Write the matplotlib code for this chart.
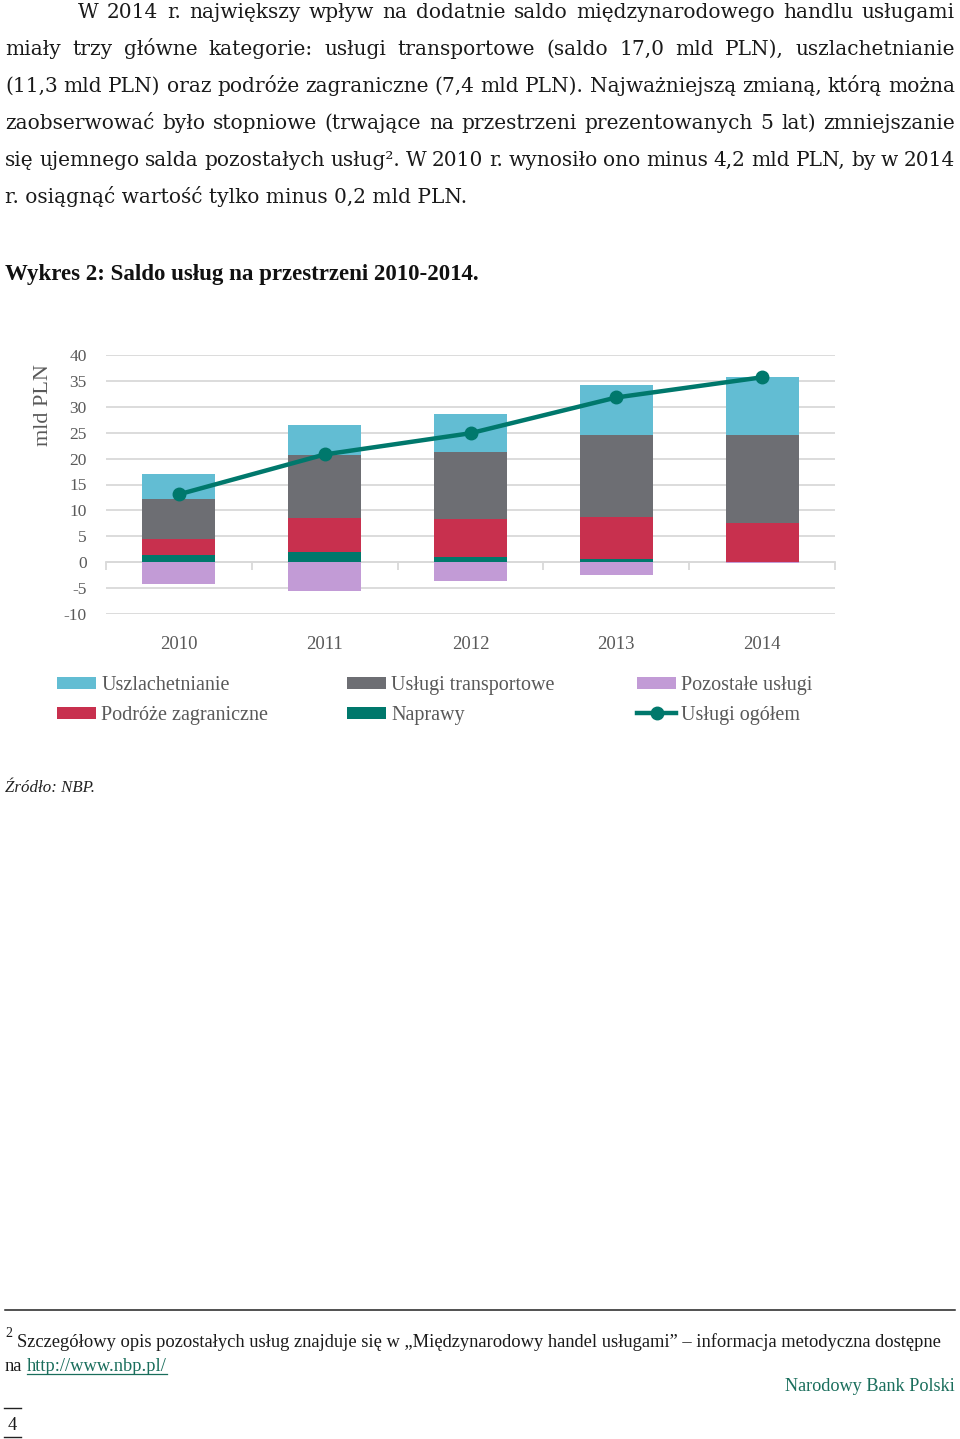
import matplotlib
matplotlib.use('Agg')
import matplotlib.pyplot as plt
from matplotlib.lines import Line2D
import numpy as np

plt.rcParams['font.family'] = ['Liberation Serif', 'DejaVu Serif']
plt.rcParams['axes.unicode_minus'] = False

# ---------------- data ----------------
years = ['2010', '2011', '2012', '2013', '2014']
naprawy = [1.4, 1.9, 1.1, 0.7, 0.1]
podroze = [3.0, 6.6, 7.2, 8.1, 7.4]
transport = [7.8, 12.1, 13.0, 15.8, 17.0]
uszlachetnianie = [4.9, 5.9, 7.4, 9.6, 11.3]
pozostale = [-4.2, -5.6, -3.7, -2.4, -0.2]
ogolem = [13.1, 20.8, 24.9, 31.8, 35.7]
yticks = [-10, -5, 0, 5, 10, 15, 20, 25, 30, 35, 40]

C_CYAN = '#62BDD3'
C_GRAY = '#6D6E73'
C_RED = '#C8304E'
C_TEAL = '#00786C'
C_PURPLE = '#C29BD6'
C_GRID = '#D9D9D9'
C_TXT = '#595959'
C_BODY = '#1a1a1a'
C_NBP = '#1A6E5C'

W, H = 960, 1439
fig = plt.figure(figsize=(W / 100, H / 100), dpi=100)


def fx(x):
    return x / W


def fy(y):
    return 1 - y / H


renderer = fig.canvas.get_renderer()


def fit_size(text, target_w, base=14, **kw):
    t = fig.text(0, 0, text, fontsize=base, **kw)
    w = t.get_window_extent(renderer).width
    t.remove()
    return base * target_w / w


def justify(line, x0, x1, y, **kw):
    words = line.split()
    texts = [fig.text(0, fy(y), w, va='baseline', ha='left', **kw) for w in words]
    widths = [t.get_window_extent(renderer).width for t in texts]
    gap = (x1 - x0 - sum(widths)) / (len(words) - 1)
    x = x0
    for t, w in zip(texts, widths):
        t.set_x(fx(x))
        x += w + gap


PAGE = ['DejaVu Serif']

# ---------------- body text ----------------
last_line = "r. osiągnąć wartość tylko minus 0,2 mld PLN."
body_size = fit_size(last_line, 463, family=PAGE)
body_kw = dict(fontsize=body_size, color=C_BODY, family=PAGE)
body = [
    ("W 2014 r. największy wpływ na dodatnie saldo międzynarodowego handlu usługami", 78, 18),
    ("miały trzy główne kategorie: usługi transportowe (saldo 17,0 mld PLN), uszlachetnianie", 5, 55),
    ("(11,3 mld PLN) oraz podróże zagraniczne (7,4 mld PLN). Najważniejszą zmianą, którą można", 5, 92),
    ("zaobserwować było stopniowe (trwające na przestrzeni prezentowanych 5 lat) zmniejszanie", 5, 129),
    ("się ujemnego salda pozostałych usług². W 2010 r. wynosiło ono minus 4,2 mld PLN, by w 2014", 5, 166),
]
for line, x0, y in body:
    justify(line, x0, 955, y, **body_kw)
fig.text(fx(5), fy(203), last_line, va='baseline', **body_kw)

title = "Wykres 2: Saldo usług na przestrzeni 2010-2014."
title_size = fit_size(title, 477, fontweight='bold')
fig.text(fx(5), fy(280), title, va='baseline', fontsize=title_size, fontweight='bold',
         color='#111111')

# ---------------- chart ----------------
ax = fig.add_axes([fx(106), fy(614), (835 - 106) / W, (614 - 355) / H])
x = np.arange(len(years))
bw = 0.5
b1 = np.array(naprawy)
b2 = b1 + np.array(podroze)
b3 = b2 + np.array(transport)
h_napr = ax.bar(x, naprawy, bw, color=C_TEAL, zorder=2)
h_podr = ax.bar(x, podroze, bw, bottom=b1, color=C_RED, zorder=2)
h_tran = ax.bar(x, transport, bw, bottom=b2, color=C_GRAY, zorder=2)
h_uszl = ax.bar(x, uszlachetnianie, bw, bottom=b3, color=C_CYAN, zorder=2)
h_poz = ax.bar(x, pozostale, bw, color=C_PURPLE, zorder=2)
h_line, = ax.plot(x, ogolem, color=C_TEAL, lw=3.2, marker='o', ms=9, zorder=4)

ax.set_xlim(-0.5, len(years) - 0.5)
ax.set_ylim(-10, 40)
ax.set_yticks(yticks)
ax.yaxis.grid(True, color=C_GRID, lw=1.3)
ax.set_axisbelow(True)
for s in ax.spines.values():
    s.set_visible(False)
ax.tick_params(axis='y', length=0, pad=14, labelsize=12.5, labelcolor=C_TXT)
ax.set_xticks(x, years)
ax.tick_params(axis='x', length=0, pad=16, labelsize=13.5, labelcolor=C_TXT)
ax.set_ylabel('mld PLN', fontsize=16, color=C_TXT, va='center')
ax.yaxis.set_label_coords((44 - 106) / 729, (614 - 405) / 259)

# tick marks on the zero line
sec = ax.secondary_xaxis(0.2)
sec.set_xticks(np.arange(len(years) + 1) - 0.5)
sec.set_xticklabels([])
sec.tick_params(length=6, width=1.3, color=C_GRID, direction='out')
sec.spines['bottom'].set_color(C_GRID)
sec.spines['bottom'].set_linewidth(1.3)

# ---------------- legend ----------------
leg_kw = dict(frameon=False, fontsize=14.5, labelcolor=C_TXT, handlelength=1.95,
              handleheight=0.6, handletextpad=0.25, labelspacing=0.55,
              borderpad=0, borderaxespad=0, loc='upper left')
cols = [
    ([h_uszl, h_podr], ['Uszlachetnianie', 'Podróże zagraniczne'], 57),
    ([h_tran, h_napr], ['Usługi transportowe', 'Naprawy'], 347),
    ([h_poz, h_line], ['Pozostałe usługi', 'Usługi ogółem'], 637),
]
for hs, labs, xx in cols:
    fig.legend(hs, labs, bbox_to_anchor=(fx(xx), fy(676)), **leg_kw)

src = "Źródło: NBP."
src_size = fit_size(src, 90, style='italic')
fig.text(fx(5), fy(792), src, va='baseline', fontsize=src_size, style='italic', color='#222222')

# ---------------- footnote ----------------
fig.add_artist(Line2D([fx(5), fx(955)], [fy(1310), fy(1310)], transform=fig.transFigure,
                      color='#222222', lw=1.1))
foot = "Szczegółowy opis pozostałych usług znajduje się w „Międzynarodowy handel usługami” – informacja metodyczna dostępne"
foot_size = fit_size(foot, 929)
fig.text(fx(5), fy(1337), "2", fontsize=foot_size * 0.75, va='baseline', color=C_BODY)
fig.text(fx(17), fy(1347), foot, va='baseline', fontsize=foot_size, color=C_BODY)
fig.text(fx(5), fy(1371), "na", va='baseline', fontsize=foot_size, color=C_BODY)
link = fig.text(fx(27), fy(1371), "http://www.nbp.pl/", va='baseline', fontsize=foot_size, color=C_NBP)
lb = link.get_window_extent(renderer)
fig.add_artist(Line2D([lb.x0 / W, lb.x1 / W], [fy(1374), fy(1374)], transform=fig.transFigure,
                      color=C_NBP, lw=0.9))
nbp = "Narodowy Bank Polski"
nbp_size = fit_size(nbp, 172)
fig.text(fx(955), fy(1391), nbp, ha='right', va='baseline', fontsize=nbp_size, color=C_NBP)

fig.add_artist(Line2D([fx(4), fx(21)], [fy(1408), fy(1408)], transform=fig.transFigure, color='#222222', lw=1))
fig.add_artist(Line2D([fx(4), fx(21)], [fy(1437), fy(1437)], transform=fig.transFigure, color='#222222', lw=1))
fig.text(fx(12.5), fy(1430), "4", ha='center', va='baseline', fontsize=foot_size, color=C_BODY)

fig.savefig('out.png', dpi=100)
